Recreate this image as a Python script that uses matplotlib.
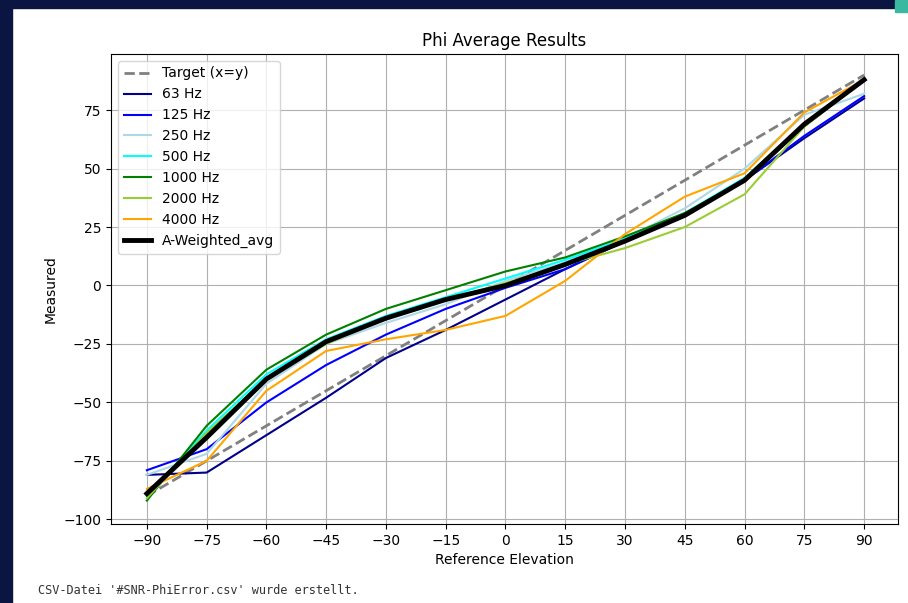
import matplotlib.pyplot as plt
from matplotlib.patches import Rectangle

reference = [-90, -75, -60, -45, -30, -15, 0, 15, 30, 45, 60, 75, 90]

hz_63 = [-81, -80, -64, -48, -31, -19, -6, 7, 19, 30, 45, 63, 80]
hz_125 = [-79, -70, -50, -34, -21, -10, -1, 7, 19, 30, 45, 64, 81]
hz_250 = [-81, -72, -42, -25, -16, -8, 2, 10, 20, 33, 50, 73, 82]
hz_500 = [-90, -62, -38, -23, -13, -5, 3, 11, 20, 31, 46, 69, 88]
hz_1000 = [-92, -60, -36, -21, -10, -2, 6, 12, 21, 31, 45, 68, 88]
hz_2000 = [-91, -63, -40, -25, -14, -6, 1, 9, 16, 25, 39, 68, 88]
hz_4000 = [-87, -75, -45, -28, -23, -19, -13, 2, 22, 38, 48, 74, 88]
a_weighted = [-89, -65, -40, -24, -14, -6, 0, 9, 19, 30, 45, 69, 88]

series = [
    ('63 Hz', hz_63, 'darkblue'),
    ('125 Hz', hz_125, 'blue'),
    ('250 Hz', hz_250, 'lightblue'),
    ('500 Hz', hz_500, 'cyan'),
    ('1000 Hz', hz_1000, 'green'),
    ('2000 Hz', hz_2000, 'yellowgreen'),
    ('4000 Hz', hz_4000, 'orange'),
]

fig = plt.figure(figsize=(9.08, 6.03), dpi=100)

# screenshot frame (notebook border)
navy = '#0b1541'
fig.patches.append(Rectangle((0, 0), 12 / 908, 1, transform=fig.transFigure, color=navy, zorder=-5))
fig.patches.append(Rectangle((0, 1 - 8 / 603), 1, 8 / 603, transform=fig.transFigure, color=navy, zorder=-5))
fig.patches.append(Rectangle((895 / 908, 1 - 12 / 603), 13 / 908, 12 / 603, transform=fig.transFigure,
                             color='#3bb8a0', zorder=-4))

ax = fig.add_axes([111 / 908, 1 - 524 / 603, (898 - 111) / 908, (524 - 54) / 603])

ax.plot(reference, reference, '--', color='gray', lw=2, label='Target (x=y)')
for name, vals, col in series:
    ax.plot(reference, vals, color=col, lw=1.5, label=name)
ax.plot(reference, a_weighted, color='black', lw=3.5, label='A-Weighted_avg')

ax.set_xticks(reference)
ax.set_xlim(-99, 98.5)
ax.set_ylim(-102, 99)
ax.grid(True)
ax.set_title('Phi Average Results', fontsize=12)
ax.set_xlabel('Reference Elevation')
ax.set_ylabel('Measured')
ax.legend(loc='upper left')

fig.text(38 / 908, 1 - 591 / 603, "CSV-Datei '#SNR-PhiError.csv' wurde erstellt.",
         family='DejaVu Sans Mono', fontsize=8.6, color='#333333', va='center')

fig.savefig('out.png', dpi=100)
